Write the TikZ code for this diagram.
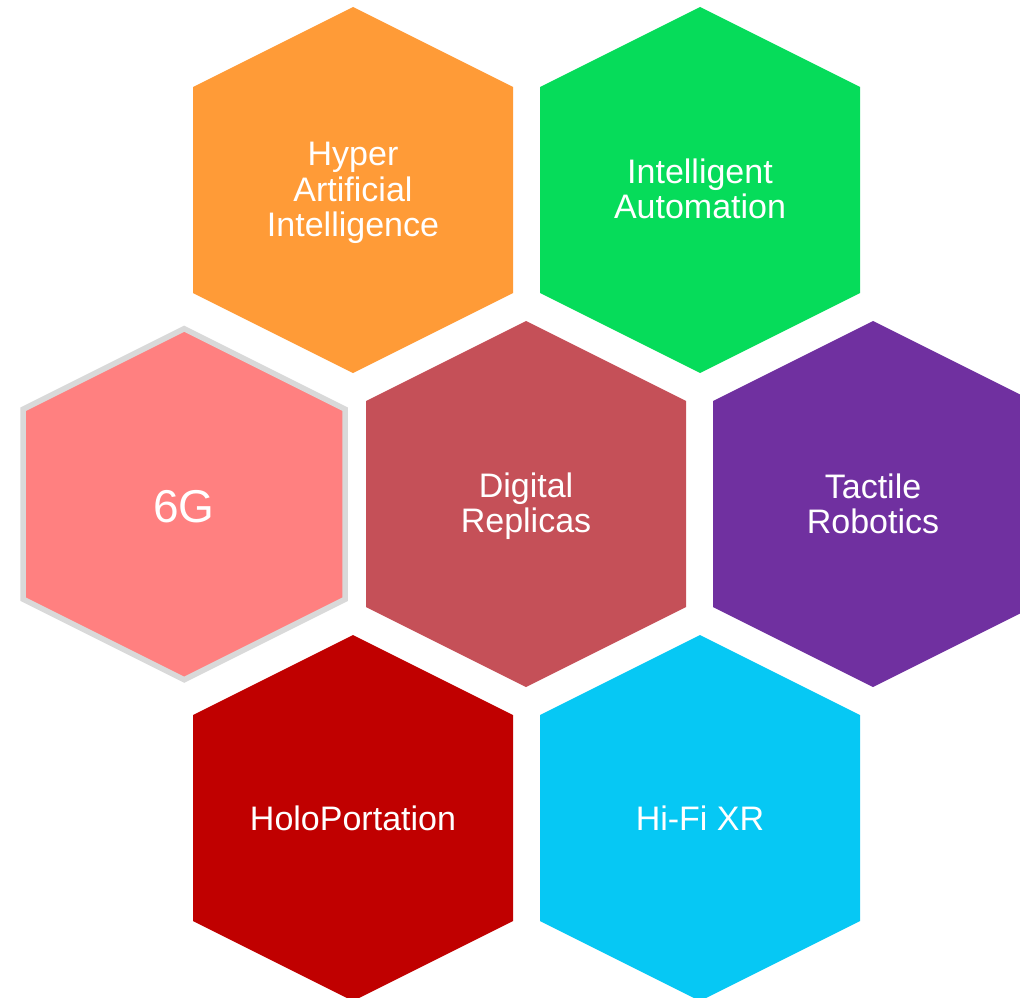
\documentclass[tikz,border=0pt]{standalone}
\usepackage{fontspec}
\setmainfont{Liberation Sans}
\usepackage{tikz}
\definecolor{hyperai}{HTML}{FF9B37}
\definecolor{autom}{HTML}{06DC5A}
\definecolor{replica}{HTML}{C55058}
\definecolor{tactile}{HTML}{7030A0}
\definecolor{holo}{HTML}{C00000}
\definecolor{hifi}{HTML}{06C8F4}
\definecolor{sixg}{HTML}{FF8080}
\definecolor{rim}{HTML}{D9D9D9}
\tikzset{hexlabel/.style={text=white, align=center, font=\fontsize{34}{35.5}\selectfont}}

\begin{document}
\begin{tikzpicture}[x=1pt, y=-1pt]
            \useasboundingbox (0, 0) rectangle (1020, 998);
            \clip (0, 0) rectangle (1020, 998);
            \foreach \cx/\cy/\col in {353/190/hyperai, 700/190/autom, 526/504/replica, 873/504/tactile, 353/818/holo, 700/818/hifi}
                \fill[\col, shift={(\cx, \cy)}] (0, -183) -- (160, -103) -- (160, 103) -- (0, 183) -- (-160, 103) -- (-160, -103) -- cycle;
            \filldraw[fill=sixg, draw=rim, line width=5.5, line join=miter, shift={(184.2, 504.2)}] (0, -175.5) -- (161, -95) -- (161, 95) -- (0, 175.5) -- (-161, 95) -- (-161, -95) -- cycle;
            \node[hexlabel] (hyper) at (353, 193) {Hyper\\Artificial\\Intelligence};
            \node[hexlabel] (automation) at (700, 189) {Intelligent\\Automation};
            \node[hexlabel] (replicas) at (526, 506) {Digital\\Replicas};
            \node[hexlabel] (robotics) at (873, 504) {Tactile\\Robotics};
            \node[hexlabel] (holoport) at (353, 818) {HoloPortation};
            \node[hexlabel] (xr) at (700, 818) {Hi-Fi XR};
            \node[hexlabel, font=\fontsize{46}{50}\selectfont] (sixgnode) at (184, 507) {6G};
        \end{tikzpicture}
\end{document}
